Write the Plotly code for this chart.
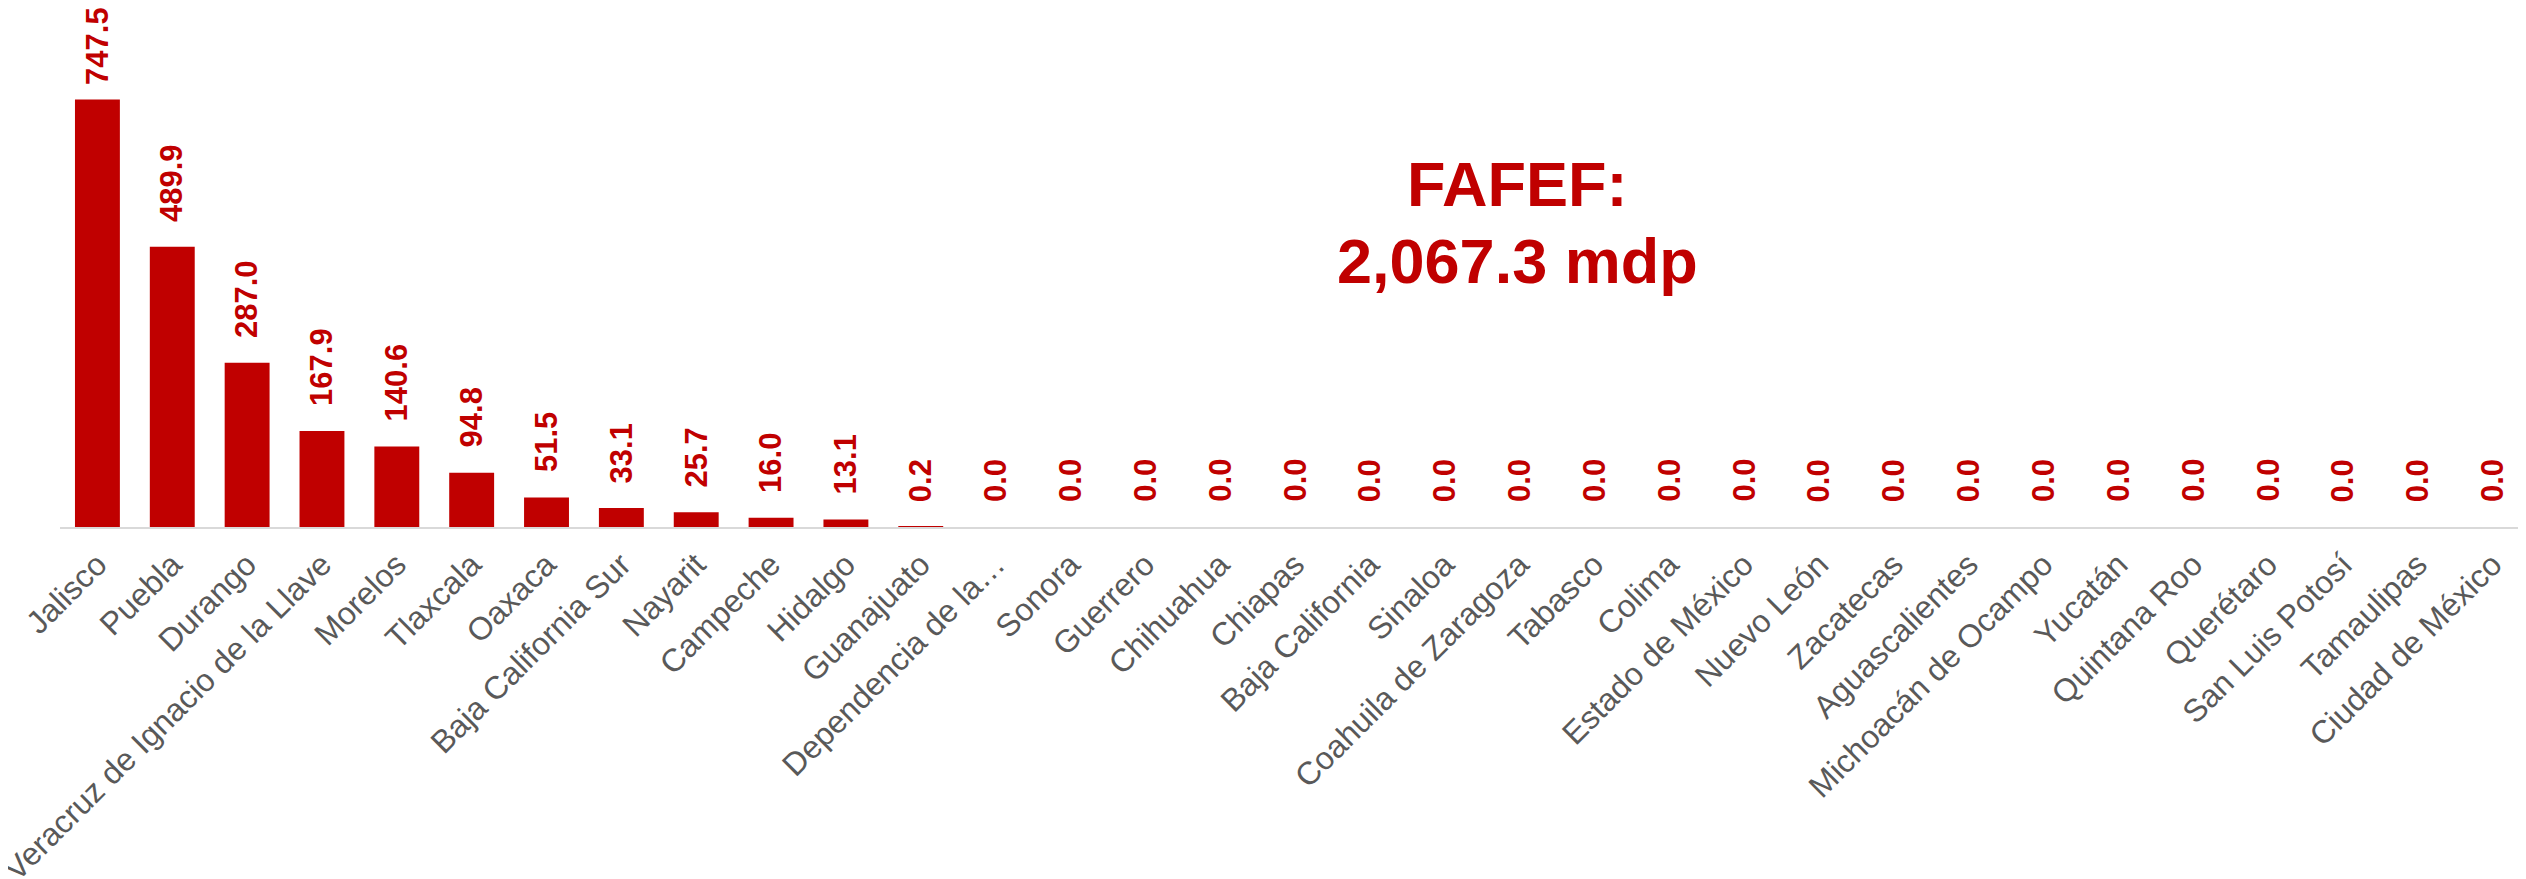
import plotly.graph_objects as go

estados = ["Jalisco", "Puebla", "Durango", "Veracruz de Ignacio de la Llave", "Morelos",
           "Tlaxcala", "Oaxaca", "Baja California Sur", "Nayarit", "Campeche", "Hidalgo",
           "Guanajuato", "Dependencia de la…", "Sonora", "Guerrero", "Chihuahua", "Chiapas",
           "Baja California", "Sinaloa", "Coahuila de Zaragoza", "Tabasco", "Colima",
           "Estado de México", "Nuevo León", "Zacatecas", "Aguascalientes",
           "Michoacán de Ocampo", "Yucatán", "Quintana Roo", "Querétaro", "San Luis Potosí",
           "Tamaulipas", "Ciudad de México"]
valores = [747.5, 489.9, 287.0, 167.9, 140.6, 94.8, 51.5, 33.1, 25.7, 16.0, 13.1, 0.2,
           0.0, 0.0, 0.0, 0.0, 0.0, 0.0, 0.0, 0.0, 0.0, 0.0, 0.0, 0.0, 0.0, 0.0, 0.0,
           0.0, 0.0, 0.0, 0.0, 0.0, 0.0]
titulo_1 = "FAFEF:"
titulo_2 = "2,067.3 mdp"

ROJO = "#C00000"
FONT = "Liberation Sans, Arial, sans-serif"

fig = go.Figure()
fig.add_trace(go.Bar(x=estados, y=valores, marker=dict(color=ROJO, line=dict(width=0)),
                     hoverinfo="x+y"))

vmax = max(valores)
for e, v in zip(estados, valores):
    fig.add_annotation(x=e, y=v, xref="x", yref="y", text=f"{v:.1f}", textangle=-90,
                       showarrow=False, xanchor="center", yanchor="bottom",
                       yshift=13 if v == vmax else 23,
                       font=dict(family=FONT, size=31, color=ROJO, weight="bold"))

for txt, yy in ((titulo_1, 0.663), (titulo_2, 0.514)):
    fig.add_annotation(x=0.5899, y=yy, xref="paper", yref="paper", text=txt,
                       showarrow=False, xanchor="center", yanchor="middle",
                       font=dict(family=FONT, size=63, color=ROJO, weight="bold"))

fig.update_layout(
    width=2526, height=879,
    margin=dict(l=52, r=4, t=2, b=360, autoexpand=False),
    plot_bgcolor="white", paper_bgcolor="white",
    bargap=0.4, showlegend=False,
    font=dict(family=FONT),
)
fig.update_xaxes(range=[-0.5, 32.5], showline=True, linecolor="#d9d9d9", linewidth=2,
                 ticks="", tickangle=-45, showgrid=False, automargin=False,
                 ticklabelstandoff=4,
                 tickfont=dict(family=FONT, size=32, color="#595959"))
fig.update_yaxes(range=[0, 904], visible=False, showgrid=False, zeroline=False,
                 automargin=False)

fig.write_html("out.html")
